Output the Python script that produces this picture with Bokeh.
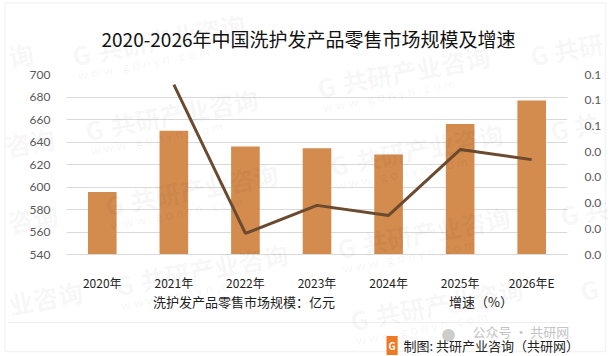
from bokeh.embed import file_html
from bokeh.resources import INLINE
from bokeh.plotting import figure
from bokeh.models import (FactorRange, Range1d, LinearAxis, FixedTicker, NumeralTickFormatter,
                          Legend, LegendItem, Label, BoxAnnotation)

years = ["2020年", "2021年", "2022年", "2023年", "2024年", "2025年", "2026年E"]
market_size = [595.5, 650, 636, 634.5, 629, 656, 677]
growth_years = years[1:]
growth = [0.0661, 0.0082, 0.0191, 0.0152, 0.0408, 0.0369]
left_ticks = [540, 560, 580, 600, 620, 640, 660, 680, 700]
right_ticks = [0, 0.01, 0.02, 0.03, 0.04, 0.05, 0.06, 0.07]
title_text = "2020-2026年中国洗护发产品零售市场规模及增速"
legend_bar = "洗护发产品零售市场规模：亿元"
legend_line = "增速（%）"
source_text = "制图: 共研产业咨询（共研网）"
wechat_text = "公众号 · 共研网"
wm_full = "共研产业咨询"
wm_url = "w w w . g o n y n . c o m"
wm_starts = [(72, 55), (85, 130), (317, 87), (105, 205), (115, 285), (337, 248), (350, 320), (330, 165)]
wm_cn_parts = [("询", 8, 56), ("咨询", 5, 146), ("咨询", 8, 222), ("业咨询", 8, 304)]
wm_g_parts = [("G 共研", 530, 55), ("G 共", 550, 130), ("G 共", 560, 215), ("G", 580, 290)]

W, H = 614, 356
L, R, T, B = 66, 567, 74, 254
CJK = "Noto Sans CJK SC"

p = figure(width=W, height=H, x_range=FactorRange(*years, factor_padding=0, range_padding=0),
           y_range=Range1d(540, 700), output_backend="svg", toolbar_location=None,
           min_border_left=L, min_border_right=W - R, min_border_top=T, min_border_bottom=H - B)
p.styles = {"position": "absolute", "left": "0px", "top": "0px"}
p.outline_line_color = None
p.extra_y_ranges = {"g": Range1d(0, 0.07)}

p.xgrid.grid_line_color = None
p.ygrid.grid_line_color = "#d9d9d9"
p.ygrid.ticker = FixedTicker(ticks=left_ticks)

p.xaxis.axis_line_color = "#d9d9d9"
p.xaxis.major_tick_line_color = None
p.xaxis.minor_tick_line_color = None
p.xaxis.major_label_text_font = CJK
p.xaxis.major_label_text_font_size = "12px"
p.xaxis.major_label_text_color = "#222222"
p.xaxis.major_label_standoff = 13

p.yaxis.ticker = FixedTicker(ticks=left_ticks)
p.yaxis.axis_line_color = None
p.yaxis.major_tick_line_color = None
p.yaxis.minor_tick_line_color = None
p.yaxis.major_label_text_font = "Lato"
p.yaxis.major_label_text_font_size = "12px"
p.yaxis.major_label_text_color = "#595959"
p.yaxis.major_label_standoff = 10

ax2 = LinearAxis(y_range_name="g", ticker=FixedTicker(ticks=right_ticks),
                 formatter=NumeralTickFormatter(format="0.0"), axis_line_color=None,
                 major_tick_line_color=None, minor_tick_line_color=None,
                 major_label_text_font="Lato", major_label_text_font_size="12px",
                 major_label_text_color="#595959", major_label_standoff=11)
p.add_layout(ax2, "right")

BAR_COLOR, LINE_COLOR = "#D38B4E", "#6B4A2F"
p.vbar(x=years, top=market_size, bottom=540, width=0.4, color=BAR_COLOR, line_color=None)
p.line(x=growth_years, y=growth, y_range_name="g", line_color=LINE_COLOR, line_width=3)

# transparent layer over the chart, in page pixels, for everything outside the plot frame
ov = figure(width=W, height=H, x_range=Range1d(0, W), y_range=Range1d(H, 0), output_backend="svg", toolbar_location=None,
            min_border=0, min_border_left=0, min_border_right=0, min_border_top=0, min_border_bottom=0)
ov.styles = {"position": "absolute", "left": "0px", "top": "0px"}
ov.axis.visible = False
ov.grid.visible = False
ov.outline_line_color = None
ov.background_fill_alpha = 0
ov.border_fill_alpha = 0

k_bar = ov.vbar(x=[], top=[], bottom=[], width=1, color=BAR_COLOR, line_color=None)
k_line = ov.line(x=[], y=[], line_color=LINE_COLOR, line_width=3)
legend = Legend(items=[LegendItem(label=legend_bar, renderers=[k_bar]), LegendItem(label=legend_line, renderers=[k_line])],
                orientation="horizontal", location=(124, H - 311), background_fill_alpha=0, border_line_color=None,
                label_text_font=CJK, label_text_font_size="13px", label_text_color="#222222",
                glyph_width=26, glyph_height=8, spacing=85, padding=0, margin=0, label_standoff=3)
ov.add_layout(legend, "center")


def lab(x, y, text, **kw):
    kw.setdefault("text_font", CJK)
    kw.setdefault("text_baseline", "alphabetic")
    ov.add_layout(Label(x=x, y=y, text=text, **kw))


lab(308, 38, title_text, text_font_size="19px", text_align="center", text_color="#111111")

ov.add_layout(BoxAnnotation(left=4.5, right=605, top=2.5, bottom=351, fill_alpha=0, line_color="#d9d9d9", line_width=1.5))
ov.add_layout(BoxAnnotation(left=8, right=568, top=322, bottom=322, fill_alpha=0, line_color="#dddddd", line_width=1))

ang = 0.185
wm = dict(text_font_size="25px", text_font_style="bold", text_color="black", text_alpha=0.05, angle=ang)
for sx, sy in wm_starts:
    lab(sx, sy, "G", **wm)
    lab(sx + 25, sy - 5, wm_full, **wm)
    lab(sx + 5, sy + 20, wm_url, text_font="Lato", text_font_size="13px", text_color="black", text_alpha=0.06, angle=ang)
for text, sx, sy in wm_cn_parts + [(t, x, y) for t, x, y in wm_g_parts]:
    lab(sx, sy, text, **wm)

lab(441, 333, "●", text_font_size="14px", text_color="#cccccc")
lab(472, 331, wechat_text, text_font_size="13px", text_color="#c4c4c4")
lab(386, 345, "G", text_font_size="10px", text_font_style="bold", text_color="white",
    background_fill_color="#F07A24", padding=2)
lab(403, 345, source_text, text_font_size="13px", text_color="#222222")

open("out.html", "w").write(file_html([p, ov], INLINE))
